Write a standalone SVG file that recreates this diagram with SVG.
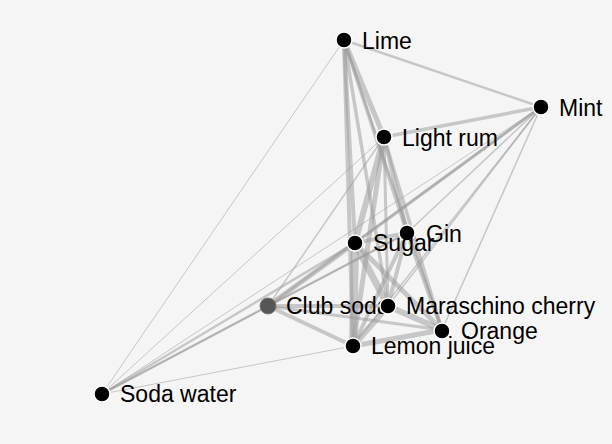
<svg xmlns="http://www.w3.org/2000/svg" width="612" height="444" viewBox="0 0 612 444">
<style>
.bg{fill:#f5f5f5}
.links line{stroke:#999;stroke-opacity:0.5;stroke-linecap:butt}
.node circle{fill:#000;stroke:#fff;stroke-width:1.5}
.node text{font-family:"Liberation Sans",Arial,Helvetica,sans-serif;font-size:23px;fill:#000}
</style>
<rect class="bg" x="0" y="0" width="612" height="444"/>
<g id="connectors" class="links">
<line x1="344" y1="40" x2="541" y2="107" stroke-width="2.5"/>
<line x1="344" y1="40" x2="384" y2="137" stroke-width="5"/>
<line x1="344" y1="40" x2="355" y2="243" stroke-width="4"/>
<line x1="344" y1="40" x2="353" y2="346" stroke-width="4"/>
<line x1="344" y1="40" x2="407" y2="233" stroke-width="3.5"/>
<line x1="344" y1="40" x2="388" y2="306" stroke-width="3.5"/>
<line x1="344" y1="40" x2="442" y2="330" stroke-width="2.5"/>
<line x1="344" y1="40" x2="102" y2="394" stroke-width="1"/>
<line x1="384" y1="137" x2="541" y2="107" stroke-width="3.5"/>
<line x1="384" y1="137" x2="102" y2="394" stroke-width="1"/>
<line x1="384" y1="137" x2="355" y2="243" stroke-width="6"/>
<line x1="384" y1="137" x2="407" y2="233" stroke-width="4"/>
<line x1="384" y1="137" x2="388" y2="306" stroke-width="3"/>
<line x1="384" y1="137" x2="442" y2="330" stroke-width="3.5"/>
<line x1="384" y1="137" x2="353" y2="346" stroke-width="5"/>
<line x1="384" y1="137" x2="268" y2="306" stroke-width="1.5"/>
<line x1="541" y1="107" x2="355" y2="243" stroke-width="3"/>
<line x1="541" y1="107" x2="268" y2="306" stroke-width="2.5"/>
<line x1="541" y1="107" x2="102" y2="394" stroke-width="1"/>
<line x1="541" y1="107" x2="407" y2="233" stroke-width="1.5"/>
<line x1="541" y1="107" x2="388" y2="306" stroke-width="1.5"/>
<line x1="541" y1="107" x2="353" y2="346" stroke-width="1.5"/>
<line x1="541" y1="107" x2="442" y2="330" stroke-width="1.5"/>
<line x1="355" y1="243" x2="407" y2="233" stroke-width="4"/>
<line x1="355" y1="243" x2="388" y2="306" stroke-width="7"/>
<line x1="355" y1="243" x2="442" y2="330" stroke-width="5"/>
<line x1="355" y1="243" x2="353" y2="346" stroke-width="8"/>
<line x1="355" y1="243" x2="268" y2="306" stroke-width="5"/>
<line x1="355" y1="243" x2="102" y2="394" stroke-width="2.5"/>
<line x1="407" y1="233" x2="388" y2="306" stroke-width="4"/>
<line x1="407" y1="233" x2="442" y2="330" stroke-width="4"/>
<line x1="407" y1="233" x2="353" y2="346" stroke-width="4"/>
<line x1="407" y1="233" x2="268" y2="306" stroke-width="2.5"/>
<line x1="407" y1="233" x2="102" y2="394" stroke-width="1.5"/>
<line x1="388" y1="306" x2="442" y2="330" stroke-width="6"/>
<line x1="388" y1="306" x2="353" y2="346" stroke-width="6"/>
<line x1="388" y1="306" x2="268" y2="306" stroke-width="4"/>
<line x1="442" y1="330" x2="353" y2="346" stroke-width="5"/>
<line x1="442" y1="330" x2="268" y2="306" stroke-width="3"/>
<line x1="353" y1="346" x2="268" y2="306" stroke-width="4"/>
<line x1="353" y1="346" x2="102" y2="394" stroke-width="1"/>
<line x1="268" y1="306" x2="102" y2="394" stroke-width="2.5"/>
</g>
<g id="node-lime" class="node"><circle cx="344" cy="40" r="8"/><text x="362" y="49">Lime</text></g>
<g id="node-mint" class="node"><circle cx="541" cy="107" r="8"/><text x="559" y="116">Mint</text></g>
<g id="node-light-rum" class="node"><circle cx="384" cy="137" r="8"/><text x="402" y="146">Light rum</text></g>
<g id="node-gin" class="node"><circle cx="407" cy="233" r="8"/><text x="426" y="242">Gin</text></g>
<g id="node-sugar" class="node"><circle cx="355" cy="243" r="8"/><text x="373" y="251">Sugar</text></g>
<g id="node-club-soda" class="node"><circle cx="268" cy="306" r="8" style="fill:#555;stroke:#777;stroke-width:1"/><text x="286" y="314">Club soda</text></g>
<g id="node-maraschino-cherry" class="node"><circle cx="388" cy="306" r="8"/><text x="406" y="314">Maraschino cherry</text></g>
<g id="node-orange" class="node"><circle cx="442" cy="331" r="8"/><text x="461" y="339">Orange</text></g>
<g id="node-lemon-juice" class="node"><circle cx="353" cy="346" r="8"/><text x="371" y="354">Lemon juice</text></g>
<g id="node-soda-water" class="node"><circle cx="102" cy="394" r="8"/><text x="120" y="402">Soda water</text></g>
</svg>
